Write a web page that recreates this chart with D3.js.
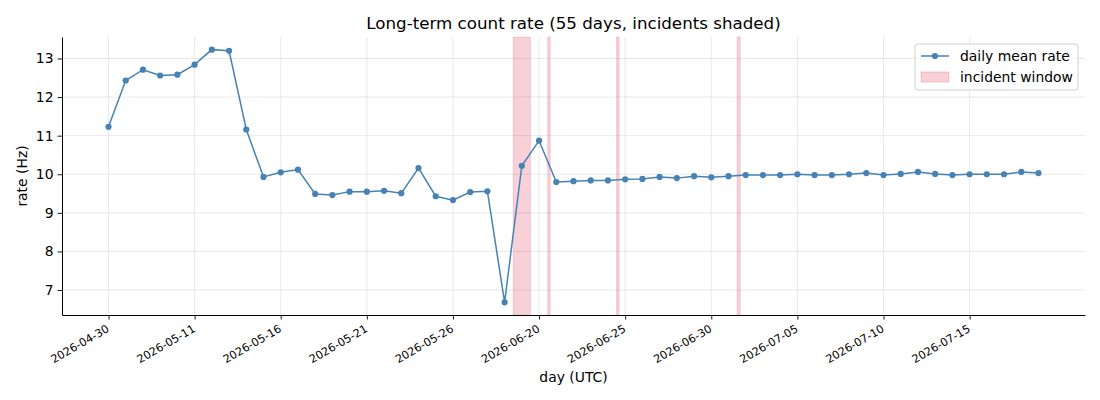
<!DOCTYPE html>
<html>
<head>
<meta charset="utf-8">
<script src="https://cdn.jsdelivr.net/npm/d3@7"></script>
<style>
  body { margin: 0; background: #fff; }
  text { font-family: 'DejaVu Sans', sans-serif; fill: #000; }
</style>
</head>
<body>
<div id="chart"></div>
<script>
// --- data
const rates = [
  11.23, 12.43, 12.71, 12.56, 12.58, 12.84, 13.23, 13.20, 11.16, 9.93,
  10.05, 10.12, 9.49, 9.46, 9.55, 9.55, 9.57, 9.51, 10.16, 9.43,
  9.33, 9.54, 9.56, 6.68, 10.22, 10.87, 9.80, 9.82, 9.84, 9.84,
  9.87, 9.88, 9.93, 9.90, 9.95, 9.92, 9.95, 9.98, 9.98, 9.98,
  10.00, 9.98, 9.98, 10.00, 10.03, 9.98, 10.01, 10.06, 10.01, 9.98,
  10.00, 10.00, 10.00, 10.06, 10.03
];
// one label every 5th day
const tickLabels = [
  '2026-04-30', '2026-05-11', '2026-05-16', '2026-05-21', '2026-05-26', '2026-06-20',
  '2026-06-25', '2026-06-30', '2026-07-05', '2026-07-10', '2026-07-15'
];
// incident windows, in day index units
const incidentStart = [23.5, 25.5, 29.5, 36.5];
const incidentEnd = [24.5, 25.65, 29.65, 36.68];
const yTicks = [7, 8, 9, 10, 11, 12, 13];

// --- setup
const width = 1100;
const height = 400;
const margin = { top: 37, right: 15, bottom: 85, left: 62 };
const lineColor = '#4682b4';
const bandColor = 'crimson';

const svg = d3.select('#chart')
  .append('svg')
  .attr('width', width)
  .attr('height', height);

// --- scales (matplotlib style 5% padding)
const n = rates.length;
const xPad = (n - 1) * 0.05;
const x = d3.scaleLinear()
  .domain([-xPad, n - 1 + xPad])
  .range([margin.left, width - margin.right]);

const yMin = d3.min(rates), yMax = d3.max(rates);
const yPad = (yMax - yMin) * 0.05;
const y = d3.scaleLinear()
  .domain([yMin - yPad, yMax + yPad])
  .range([height - margin.bottom, margin.top]);

const xTicks = tickLabels.map((_, i) => i * 5);

// --- grid
const grid = svg.append('g')
  .attr('stroke', '#b0b0b0')
  .attr('stroke-opacity', 0.35)
  .attr('stroke-width', 0.8);

grid.selectAll('.gx')
  .data(xTicks)
  .join('line')
    .attr('x1', d => x(d)).attr('x2', d => x(d))
    .attr('y1', margin.top).attr('y2', height - margin.bottom);

grid.selectAll('.gy')
  .data(yTicks)
  .join('line')
    .attr('x1', margin.left).attr('x2', width - margin.right)
    .attr('y1', d => y(d)).attr('y2', d => y(d));

// --- incident bands
svg.append('g')
  .selectAll('rect')
  .data(incidentStart.map((s, i) => [s, incidentEnd[i]]))
  .join('rect')
    .attr('x', d => x(d[0]))
    .attr('width', d => x(d[1]) - x(d[0]))
    .attr('y', margin.top)
    .attr('height', height - margin.bottom - margin.top)
    .attr('fill', bandColor)
    .attr('fill-opacity', 0.2)
    .attr('stroke', bandColor)
    .attr('stroke-opacity', 0.15)
    .attr('stroke-width', 1);

// --- line + markers
const line = d3.line()
  .x((d, i) => x(i))
  .y(d => y(d));

svg.append('path')
  .attr('d', line(rates))
  .attr('fill', 'none')
  .attr('stroke', lineColor)
  .attr('stroke-width', 1.5);

svg.append('g')
  .selectAll('circle')
  .data(rates)
  .join('circle')
    .attr('cx', (d, i) => x(i))
    .attr('cy', d => y(d))
    .attr('r', 3.1)
    .attr('fill', lineColor);

// --- axes
const xAxis = svg.append('g')
  .attr('transform', `translate(0,${height - margin.bottom})`)
  .call(d3.axisBottom(x).tickValues(xTicks).tickSize(4.5).tickSizeOuter(0).tickPadding(3)
    .tickFormat((d, i) => tickLabels[i]));

xAxis.selectAll('.tick text')
  .attr('font-size', 11.2)
  .attr('text-anchor', 'end')
  .attr('dy', null)
  .attr('y', null)
  .attr('transform', 'translate(1,16) rotate(-30)');

const yAxis = svg.append('g')
  .attr('transform', `translate(${margin.left},0)`)
  .call(d3.axisLeft(y).tickValues(yTicks).tickSize(4.5).tickSizeOuter(0).tickPadding(4));

yAxis.selectAll('.tick text').attr('font-size', 13.9);

svg.selectAll('.domain').attr('stroke', '#000').attr('stroke-width', 1);
svg.selectAll('.tick line').attr('stroke', '#000').attr('stroke-width', 0.9);
// axis group font-family override
svg.selectAll('g').attr('font-family', null);

// --- titles
svg.append('text')
  .attr('x', (margin.left + width - margin.right) / 2)
  .attr('y', 29)
  .attr('text-anchor', 'middle')
  .attr('font-size', 16.7)
  .text('Long-term count rate (55 days, incidents shaded)');

svg.append('text')
  .attr('x', (margin.left + width - margin.right) / 2)
  .attr('y', 382)
  .attr('text-anchor', 'middle')
  .attr('font-size', 13.9)
  .text('day (UTC)');

svg.append('text')
  .attr('transform', `translate(27,${(margin.top + height - margin.bottom) / 2}) rotate(-90)`)
  .attr('text-anchor', 'middle')
  .attr('font-size', 13.9)
  .text('rate (Hz)');

// --- legend
const legend = svg.append('g').attr('transform', 'translate(915,44)');

legend.append('rect')
  .attr('width', 163)
  .attr('height', 46)
  .attr('rx', 3)
  .attr('fill', '#fff')
  .attr('fill-opacity', 0.8)
  .attr('stroke', '#d0d0d0');

legend.append('line')
  .attr('x1', 6).attr('x2', 34)
  .attr('y1', 12).attr('y2', 12)
  .attr('stroke', lineColor)
  .attr('stroke-width', 1.5);

legend.append('circle')
  .attr('cx', 20).attr('cy', 12).attr('r', 3.1)
  .attr('fill', lineColor);

legend.append('rect')
  .attr('x', 6).attr('y', 28)
  .attr('width', 28).attr('height', 10)
  .attr('fill', bandColor)
  .attr('fill-opacity', 0.2)
  .attr('stroke', bandColor)
  .attr('stroke-opacity', 0.2);

legend.selectAll('.legend-text')
  .data(['daily mean rate', 'incident window'])
  .join('text')
    .attr('x', 45)
    .attr('y', (d, i) => 17 + i * 21)
    .attr('font-size', 13.9)
    .text(d => d);
</script>
</body>
</html>
